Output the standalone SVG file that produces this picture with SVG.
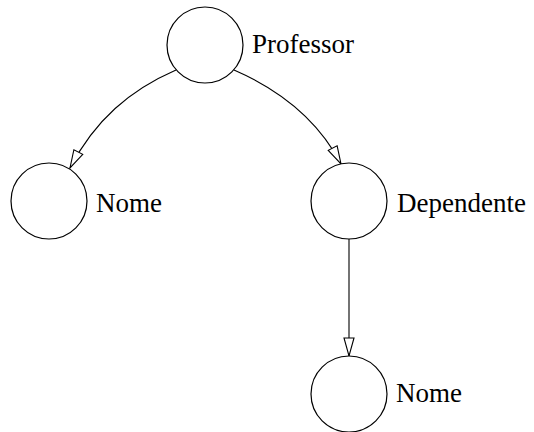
<svg xmlns="http://www.w3.org/2000/svg" width="534" height="432" viewBox="0 0 534 432">
<style>
.node{fill:#fff;stroke:#000;stroke-width:1.2}
.lbl{font-family:"Liberation Serif","Times New Roman",serif;font-size:27px;fill:#000}
.edge{fill:none;stroke:#000;stroke-width:1.1}
</style>
<defs>
<marker id="ah" markerUnits="userSpaceOnUse" markerWidth="22" markerHeight="14" refX="19" refY="6" orient="auto">
<path d="M1,1 L19,6 L1,11 Z" fill="#fff" stroke="#000" stroke-width="1.1"/>
</marker>
</defs>
<rect width="534" height="432" fill="#fff"/>
<g id="edges">
<path class="edge" d="M176,70 C130,90 95,120 70,168" marker-end="url(#ah)"/>
<path class="edge" d="M234,70 C280,90 318,120 341,164" marker-end="url(#ah)"/>
<path class="edge" d="M349,239 L349,356" marker-end="url(#ah)"/>
</g>
<g id="professor">
<circle class="node" cx="205" cy="45" r="38"/>
<text class="lbl" x="252" y="53">Professor</text>
</g>
<g id="nome1">
<circle class="node" cx="49" cy="201" r="38"/>
<text class="lbl" x="96" y="212">Nome</text>
</g>
<g id="dependente">
<circle class="node" cx="349" cy="201" r="38"/>
<text class="lbl" x="397" y="212">Dependente</text>
</g>
<g id="nome2">
<circle class="node" cx="349" cy="394" r="38"/>
<text class="lbl" x="396" y="402">Nome</text>
</g>
</svg>
